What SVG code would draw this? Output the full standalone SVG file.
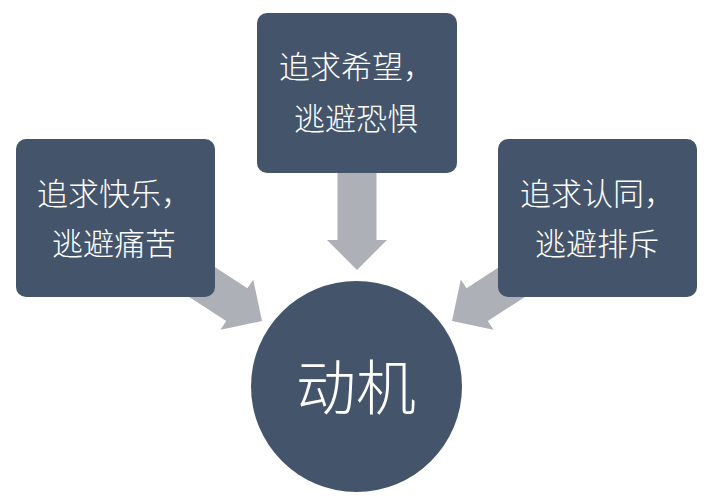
<svg xmlns="http://www.w3.org/2000/svg" xmlns:xlink="http://www.w3.org/1999/xlink" width="721" height="500" viewBox="0 0 721 500">
  <style>
    .box { fill: #44546A; }
    .arrow { fill: #AEB0B7; }
    .lbl { font-family: "Noto Sans CJK SC", "Noto Sans", sans-serif; font-size: 31px; font-weight: 300; fill: #FFFFFF; }
    .big { font-family: "Noto Sans CJK SC", "Noto Sans", sans-serif; font-size: 60px; font-weight: 300; fill: #FFFFFF; }
  </style>
  <defs>
    <polygon id="arr" points="0,0 -30,-30 -30,-19.5 -110,-19.5 -110,19.5 -30,19.5 -30,30"/>
  </defs>
  <rect width="721" height="500" fill="#FFFFFF"/>
  <g id="connectors">
    <use xlink:href="#arr" class="arrow" transform="translate(357,270) rotate(90)"/>
    <use xlink:href="#arr" class="arrow" transform="translate(262,321) rotate(33)"/>
    <use xlink:href="#arr" class="arrow" transform="translate(452,321) rotate(147)"/>
  </g>
  <g id="node-left">
    <rect class="box" x="16" y="139" width="199" height="158" rx="10"/>
    <text class="lbl" x="37" y="205">追求快乐，</text>
    <text class="lbl" x="52" y="255">逃避痛苦</text>
  </g>
  <g id="node-top">
    <rect class="box" x="257" y="13" width="200" height="160" rx="10"/>
    <text class="lbl" x="279" y="78">追求希望，</text>
    <text class="lbl" x="294" y="130">逃避恐惧</text>
  </g>
  <g id="node-right">
    <rect class="box" x="498" y="139" width="199" height="158" rx="10"/>
    <text class="lbl" x="520" y="205">追求认同，</text>
    <text class="lbl" x="535" y="255">逃避排斥</text>
  </g>
  <g id="node-center">
    <circle class="box" cx="356.5" cy="386.5" r="105.5"/>
    <text class="big" x="356" y="410" text-anchor="middle">动机</text>
  </g>
</svg>
